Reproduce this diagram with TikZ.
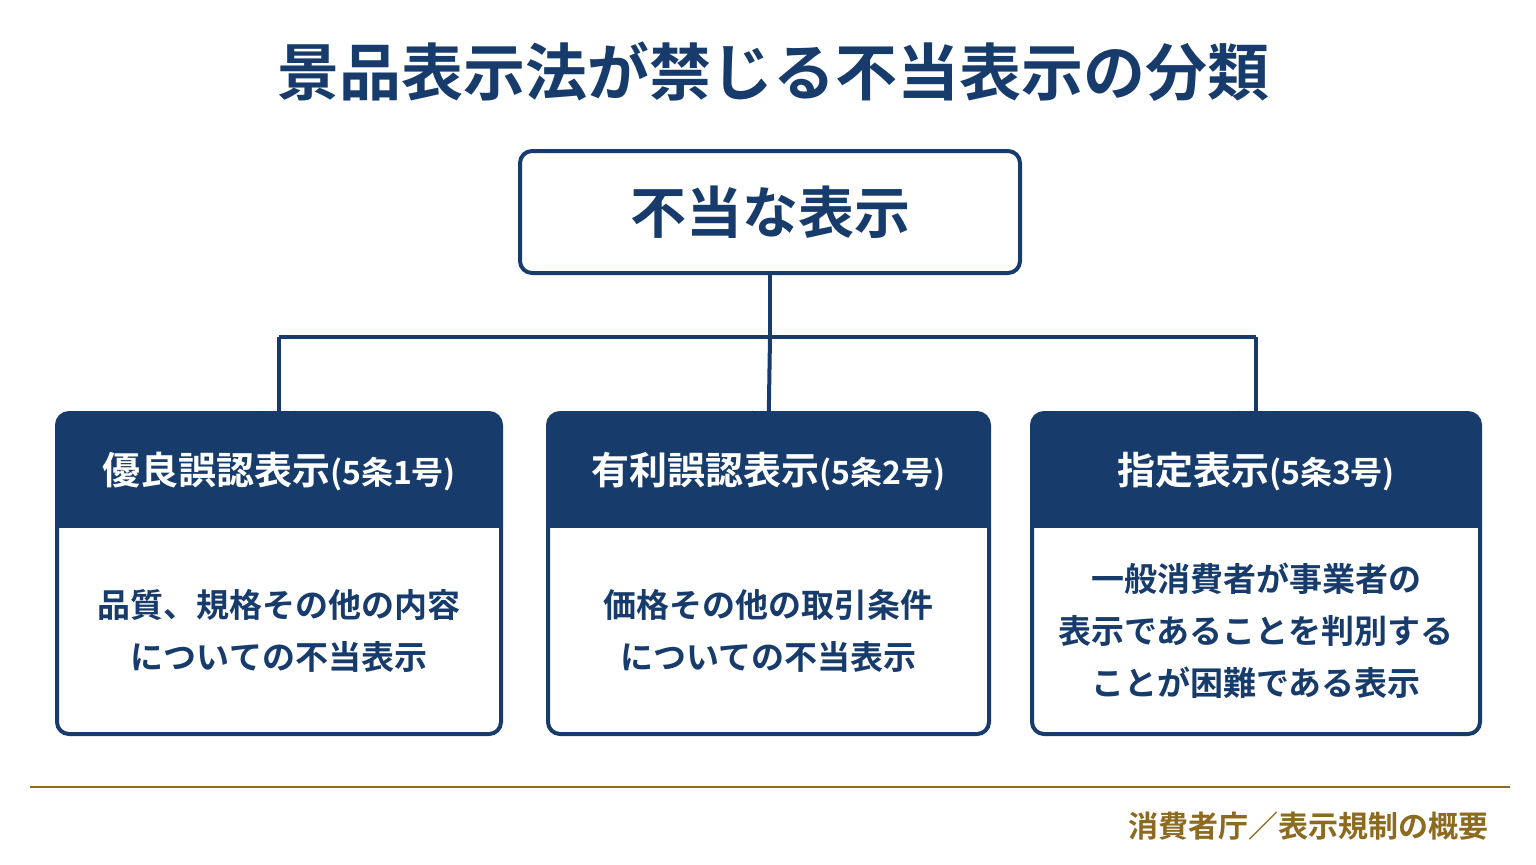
\documentclass[tikz,border=0pt]{standalone}
\usepackage{fontspec}
\setmainfont{Noto Sans CJK JP}[BoldFont=Noto Sans CJK JP Bold]
\usetikzlibrary{arrows.meta,positioning}
\definecolor{navy}{HTML}{173C6B}
\definecolor{gold}{HTML}{8C6A1F}
\tikzset{
  box/.style={draw=navy, line width=2pt, rounded corners=6pt, fill=white},
  head/.style={text=white, font=\bfseries\fontsize{19}{22}\selectfont},
  body/.style={text=navy, font=\bfseries\fontsize{16.5}{26}\selectfont, align=center},
  link/.style={draw=navy, line width=2pt},
  arr/.style={link, -{Straight Barb[length=8pt,width=18pt,line width=2pt]}}
}
\begin{document}
\begin{tikzpicture}[x=0.5pt,y=-0.5pt]
\useasboundingbox (0,0) rectangle (1536,864);
% title
\node[text=navy, font=\bfseries\fontsize{31}{34}\selectfont] (title) at (773,72) {景品表示法が禁じる不当表示の分類};
% top box
\node[box, minimum width=250pt, minimum height=61pt, font=\bfseries\fontsize{28}{30}\selectfont, text=navy] (top) at (770,212) {不当な表示};
\coordinate (split) at (770,337);
% categories
\foreach \n/\xa/\xb/\h/\b in {
  left/57/501/{優良誤認表示{\fontsize{16}{18}\selectfont(5条1号)}}/{品質、規格その他の内容\\についての不当表示},
  mid/548/989/{有利誤認表示{\fontsize{16}{18}\selectfont(5条2号)}}/{価格その他の取引条件\\についての不当表示},
  right/1032/1480/{指定表示{\fontsize{16}{18}\selectfont(5条3号)}}/{一般消費者が事業者の\\表示であることを判別する\\ことが困難である表示}}{
  \begin{scope}
    \clip[rounded corners=6pt] (\xa,413) rectangle (\xb,734);
    \fill[navy] (\xa,413) rectangle (\xb,528);
  \end{scope}
  \draw[navy, line width=2pt, rounded corners=6pt] (\xa,413) rectangle (\xb,734);
  \coordinate (\n) at ({(\xa+\xb)/2},413);
  \node[head] (\n-head) at ({(\xa+\xb)/2},472) {\h};
  \node[body] (\n-body) at ({(\xa+\xb)/2},631) {\b};
}
% connectors
\draw[link] (top.south) -- (split);
\draw[link] (split) -- (split -| left) -- ++(0,0);
\draw[link] (split) -- (split -| right);
\draw[arr] (split -| left) -- ([yshift=-9pt]left);
\draw[arr] (split) -- ([yshift=-9pt]mid);
\draw[arr] (split -| right) -- ([yshift=-9pt]right);
% footer
\coordinate (rule-a) at (30,787);
\coordinate (rule-b) at (1510,787);
\draw[gold, line width=1.2pt] (rule-a) -- (rule-b);
\node[anchor=east, text=gold, font=\bfseries\fontsize{15}{17}\selectfont] (source) at (1496,826) {消費者庁／表示規制の概要};
\end{tikzpicture}
\end{document}
